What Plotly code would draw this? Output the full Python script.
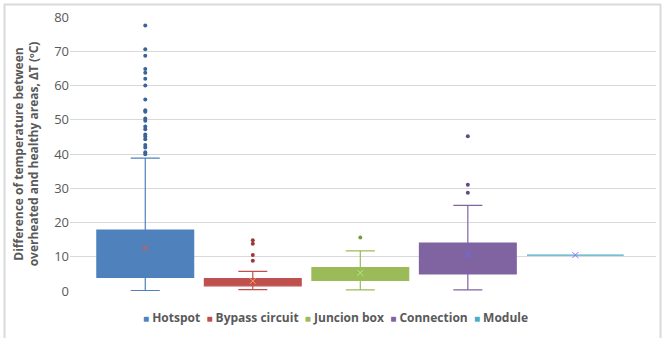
import plotly.graph_objects as go

categories = ["Hotspot", "Bypass circuit", "Juncion box", "Connection", "Module"]
colors = ["#4F81BD", "#C0504D", "#9BBB59", "#8064A2", "#4BACC6"]
dark_colors = ["#3A6498", "#9C3A37", "#7A9840", "#624A82", "#2F8BA6"]

q1 = [4.0, 1.5, 3.1, 5.0, 10.5]
median = [7.6, 2.6, 5.5, 9.0, 10.5]
q3 = [17.8, 3.6, 6.8, 14.0, 10.5]
lower = [0.1, 0.4, 0.3, 0.3, 10.5]
upper = [38.8, 5.75, 11.7, 25.0, 10.5]
means = [12.5, 2.9, 5.3, 10.7, 10.5]
outliers = [
    [77.5, 70.6, 68.7, 64.8, 63.7, 62.0, 60.0, 55.9, 52.8, 52.3, 50.4, 49.7,
     48.0, 47.2, 45.7, 45.1, 44.3, 42.6, 41.9, 40.5, 39.9],
    [14.8, 13.8, 10.5, 8.8],
    [15.6],
    [45.2, 31.0, 28.7],
    [],
]
y_ticks = [0, 10, 20, 30, 40, 50, 60, 70, 80]

fig = go.Figure()
for i, name in enumerate(categories):
    fig.add_trace(go.Box(
        x=[i], q1=[q1[i]], median=[median[i]], q3=[q3[i]],
        lowerfence=[lower[i]], upperfence=[upper[i]],
        name=name, showlegend=False,
        width=0.9, whiskerwidth=0.3,
        fillcolor=colors[i], line=dict(color=colors[i], width=1.2),
        boxpoints=False, hoverinfo="skip",
    ))
    fig.add_trace(go.Scatter(
        x=[i], y=[means[i]], mode="markers", showlegend=False,
        marker=dict(symbol="x-thin-open", size=6, line=dict(width=1, color=dark_colors[i])),
        hoverinfo="skip",
    ))
    if outliers[i]:
        fig.add_trace(go.Scatter(
            x=[i] * len(outliers[i]), y=outliers[i], mode="markers", showlegend=False,
            marker=dict(symbol="circle", size=4, color=dark_colors[i]),
            hoverinfo="skip",
        ))

# legend row (Excel style: small square + bold label)
legend_text = "  ".join(
    f"<span style='color:{c};font-size:10px'>■</span> <b>{n}</b>"
    for n, c in zip(categories, colors)
)
fig.add_annotation(text=legend_text, xref="paper", yref="paper",
                   x=(335 - 70) / 586, y=(291 - 317) / 274,
                   xanchor="center", yanchor="middle", showarrow=False,
                   font=dict(size=12, color="#595959"))

# chart-area border
px = lambda v: (v - 70) / 586
py = lambda v: (291 - v) / 274
border = dict(color="#D9D9D9", width=2)
fig.add_shape(type="line", xref="paper", yref="paper", x0=px(4), x1=px(661), y0=py(4.5), y1=py(4.5), line=border)
fig.add_shape(type="line", xref="paper", yref="paper", x0=px(4.5), x1=px(4.5), y0=py(4), y1=py(345), line=border)
fig.add_shape(type="line", xref="paper", yref="paper", x0=px(660.5), x1=px(660.5), y0=py(4), y1=py(345), line=border)

fig.update_layout(
    width=665, height=338,
    margin=dict(l=70, r=9, t=17, b=47, autoexpand=False),
    paper_bgcolor="white", plot_bgcolor="white",
    font=dict(family="Open Sans, Noto Sans, sans-serif", color="#595959"),
    xaxis=dict(range=[-0.70, 4.75], showticklabels=False, showgrid=False,
               zeroline=False, showline=False, ticks="", automargin=False),
    yaxis=dict(range=[0, 80], tickvals=y_ticks, showgrid=True, gridcolor="#D9D9D9",
               gridwidth=1, zeroline=False, showline=False, ticks="", automargin=False,
               tickfont=dict(size=13, color="#595959"),
               title=dict(text="<b>Difference of temperature between<br>overheated and healthy areas, ΔT (ºC)</b>",
                          font=dict(size=12, color="#595959"), standoff=12)),
    showlegend=False,
)

fig.write_html("out.html", config={"displayModeBar": False},
               post_script="document.body.style.margin='0';")
